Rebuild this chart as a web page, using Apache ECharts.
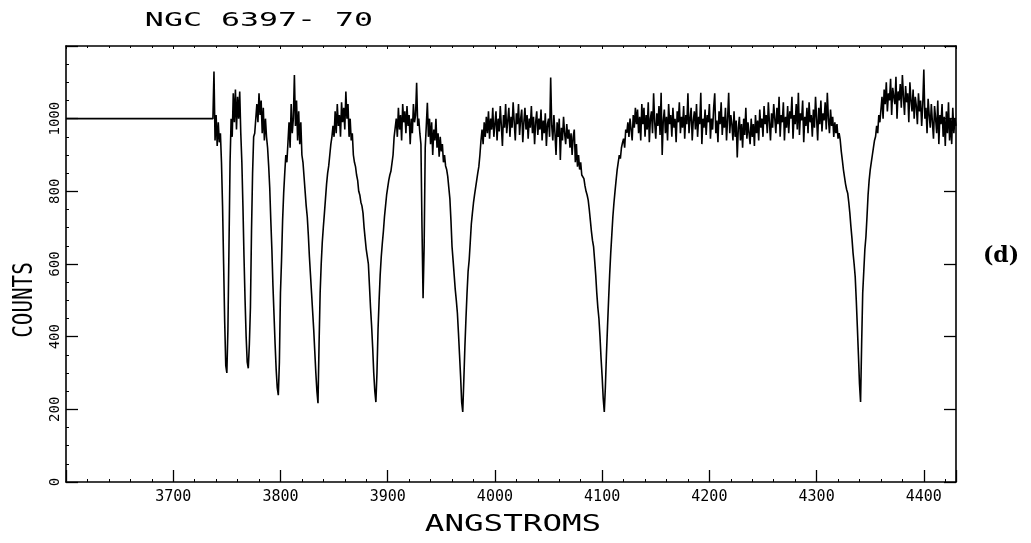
<!DOCTYPE html>
<html>
<head>
<meta charset="utf-8">
<script src="https://cdn.jsdelivr.net/npm/echarts@6/dist/echarts.min.js"></script>
<style>
html,body{margin:0;padding:0;background:#fff;}
#chart{width:1031px;height:543px;}
</style>
</head>
<body>
<div id="chart"></div>
<script>
// ---- data ----
const titleText = 'NGC 6397- 70';
const xAxisTitle = 'ANGSTROMS';
const yAxisTitle = 'COUNTS';
const panelLabel = '(d)';

const xTicks = [3700, 3800, 3900, 4000, 4100, 4200, 4300, 4400];
const yTicks = [0, 200, 400, 600, 800, 1000];

// flat (no data) segment before the spectrum starts
const flatWavelengths = [3600, 3737];
const flatCounts = [1000, 1000];

// sampled spectrum: one value per angstrom starting at spectrumStart
const spectrumStart = 3738;
const spectrumStep = 1;
const spectrumCounts = [
/*3738*/ 1130, 940, 1010, 925, 990, 935, 960, 880, 760, 600,
/*3748*/ 440, 320, 300, 420, 650, 880, 1000, 950, 1070, 990,
/*3758*/ 1080, 970, 1060, 1000, 1075, 960, 880, 760, 620, 500,
/*3768*/ 400, 330, 313, 380, 480, 690, 850, 950, 960, 1000,
/*3778*/ 1040, 990, 1070, 1010, 1050, 960, 1030, 940, 1000, 950,
/*3788*/ 920, 870, 810, 720, 640, 540, 460, 380, 310, 260,
/*3798*/ 239, 330, 520, 610, 720, 795, 850, 900, 880, 935,
/*3808*/ 990, 920, 1040, 960, 1000, 1120, 980, 1050, 940, 1020,
/*3818*/ 930, 990, 900, 880, 840, 800, 760, 730, 680, 620,
/*3828*/ 570, 520, 470, 420, 360, 300, 250, 217, 380, 520,
/*3838*/ 600, 660, 702, 740, 780, 820, 850, 870, 900, 930,
/*3848*/ 950, 980, 950, 1020, 960, 1040, 980, 1010, 950, 1045,
/*3858*/ 990, 1030, 970, 1075, 1000, 1040, 950, 1000, 940, 960,
/*3868*/ 900, 880, 868, 845, 830, 800, 790, 770, 760, 740,
/*3878*/ 700, 670, 640, 620, 600, 540, 480, 430, 370, 300,
/*3888*/ 250, 220, 300, 420, 500, 570, 620, 657, 690, 730,
/*3898*/ 760, 790, 810, 830, 845, 855, 860, 900, 950, 975,
/*3908*/ 1000, 950, 1030, 970, 1010, 940, 1040, 990, 1020, 960,
/*3918*/ 1035, 980, 1010, 930, 1000, 960, 1040, 990, 1010, 1099,
/*3928*/ 980, 1000, 960, 930, 700, 506, 650, 920, 980, 1044,
/*3938*/ 950, 1000, 930, 990, 900, 970, 940, 1000, 920, 960,
/*3948*/ 895, 950, 910, 930, 880, 900, 870, 860, 841, 810,
/*3958*/ 780, 720, 648, 610, 570, 530, 500, 465, 410, 350,
/*3968*/ 290, 220, 193, 280, 372, 450, 520, 580, 611, 660,
/*3978*/ 710, 740, 768, 790, 810, 830, 850, 868, 900, 940,
/*3988*/ 970, 930, 990, 950, 1005, 960, 1020, 945, 1000, 970,
/*3998*/ 1030, 950, 985, 1020, 940, 1000, 965, 1035, 980, 925,
/*4008*/ 1010, 975, 1040, 960, 995, 1030, 950, 1005, 975, 1045,
/*4018*/ 990, 940, 1015, 985, 1040, 955, 1000, 1025, 935, 990,
/*4028*/ 1030, 970, 1010, 945, 1000, 975, 1035, 960, 1005, 930,
/*4038*/ 990, 1020, 955, 1000, 970, 1025, 940, 995, 960, 1015,
/*4048*/ 925, 985, 1000, 950, 1113, 980, 940, 1010, 960, 900,
/*4058*/ 990, 950, 1000, 886, 975, 940, 1005, 960, 930, 985,
/*4068*/ 945, 970, 920, 960, 900, 950, 970, 880, 930, 868,
/*4078*/ 900, 860, 880, 845, 850, 835, 815, 800, 790, 776,
/*4088*/ 750, 720, 690, 665, 648, 610, 570, 520, 480, 450,
/*4098*/ 400, 340, 290, 230, 193, 260, 350, 427, 500, 570,
/*4108*/ 630, 680, 730, 768, 800, 830, 859, 880, 900, 890,
/*4118*/ 920, 934, 945, 920, 970, 961, 990, 950, 1000, 970,
/*4128*/ 940, 1010, 975, 1030, 985, 1025, 960, 1005, 940, 1040,
/*4138*/ 985, 1030, 950, 1010, 970, 1045, 935, 1000, 1020, 960,
/*4148*/ 1070, 990, 945, 1015, 980, 1035, 955, 1071, 900, 995,
/*4158*/ 1025, 960, 1005, 940, 1040, 985, 1010, 950, 1030, 975,
/*4168*/ 1000, 935, 1020, 990, 1045, 960, 1005, 975, 1035, 945,
/*4178*/ 1010, 985, 1070, 960, 1000, 1030, 940, 995, 1020, 970,
/*4188*/ 1040, 950, 1005, 985, 1071, 930, 1000, 975, 1025, 955,
/*4198*/ 1010, 990, 1040, 945, 1000, 970, 1030, 1070, 960, 995,
/*4208*/ 935, 1020, 985, 1045, 955, 1005, 975, 1030, 940, 1000,
/*4218*/ 1071, 960, 1010, 985, 940, 1020, 950, 995, 893, 975,
/*4228*/ 1005, 940, 985, 920, 1000, 955, 1030, 945, 990, 960,
/*4238*/ 930, 1000, 950, 985, 925, 1010, 960, 995, 940, 1025,
/*4248*/ 975, 1000, 950, 1035, 985, 1010, 960, 1045, 990, 940,
/*4258*/ 1015, 975, 1040, 1000, 960, 1030, 985, 1060, 950, 1010,
/*4268*/ 990, 1045, 940, 1005, 975, 1035, 960, 1020, 1000, 1060,
/*4278*/ 945, 1010, 985, 1040, 970, 1071, 955, 1015, 995, 1050,
/*4288*/ 935, 1005, 980, 1030, 960, 1045, 990, 1010, 950, 1025,
/*4298*/ 975, 1060, 1000, 940, 1030, 985, 1050, 965, 1015, 995,
/*4308*/ 1045, 970, 1071, 1000, 960, 1025, 980, 1005, 950, 990,
/*4318*/ 960, 985, 945, 960, 942, 910, 886, 860, 840, 820,
/*4328*/ 805, 795, 770, 740, 703, 670, 630, 600, 565, 500,
/*4338*/ 427, 350, 270, 220, 380, 520, 580, 640, 675, 730,
/*4348*/ 790, 830, 859, 880, 900, 920, 940, 951, 980, 960,
/*4358*/ 1010, 990, 1025, 1060, 1000, 1080, 1040, 1100, 1020, 1070,
/*4368*/ 1050, 1110, 1010, 1085, 1060, 1040, 1115, 1000, 1075, 1050,
/*4378*/ 1095, 1030, 1120, 1060, 1010, 1090, 1045, 1070, 990, 1100,
/*4388*/ 1050, 1020, 1080, 1000, 1060, 1035, 985, 1070, 1020, 1050,
/*4398*/ 980, 1040, 1135, 1000, 1030, 960, 1055, 1010, 975, 1040,
/*4408*/ 990, 945, 1035, 1000, 960, 1050, 930, 1010, 985, 1040,
/*4418*/ 950, 1005, 925, 1020, 960, 1045, 940, 1000, 930, 1030,
/*4428*/ 960, 1000, 980
];

// ---- build series data ----
const seriesData = [];
for (let i = 0; i < flatWavelengths.length; i++) seriesData.push([flatWavelengths[i], flatCounts[i]]);
for (let i = 0; i < spectrumCounts.length; i++) seriesData.push([spectrumStart + i * spectrumStep, spectrumCounts[i]]);

const plotFont = '"DejaVu Sans Mono", monospace';
const black = '#000';

const chart = echarts.init(document.getElementById('chart'), null, {renderer: 'canvas'});

const baseX = {
  type: 'value', min: 3600, max: 4430, interval: 100,
  splitLine: {show: false},
  axisLine: {show: true, onZero: false, lineStyle: {color: black, width: 1.6}}
};
const baseY = {
  type: 'value', min: 0, max: 1200, interval: 200,
  splitLine: {show: false},
  axisLine: {show: true, onZero: false, lineStyle: {color: black, width: 1.6}}
};

chart.setOption({
  animation: false,
  backgroundColor: '#fff',
  grid: {left: 66, right: 75, top: 46, bottom: 61, containLabel: false},
  xAxis: [
    Object.assign({}, baseX, {
      position: 'bottom',
      axisTick: {show: true, inside: true, length: 12, lineStyle: {color: black, width: 1.3}},
      minorTick: {show: true, splitNumber: 5, length: 3, lineStyle: {color: black, width: 1}},
      axisLabel: {
        show: true, margin: 8, color: black, fontFamily: plotFont, fontSize: 15,
        showMinLabel: false, showMaxLabel: false,
        formatter: function (v) { return xTicks.indexOf(v) >= 0 ? String(v) : ''; }
      }
    }),
    Object.assign({}, baseX, {
      position: 'top',
      axisTick: {show: true, inside: true, length: 3, lineStyle: {color: black, width: 1}},
      minorTick: {show: true, splitNumber: 5, length: 2, lineStyle: {color: black, width: 1}},
      axisLabel: {show: false}
    })
  ],
  yAxis: [
    Object.assign({}, baseY, {
      position: 'left',
      axisTick: {show: true, inside: true, length: 12, lineStyle: {color: black, width: 1.3}},
      minorTick: {show: true, splitNumber: 4, length: 3, lineStyle: {color: black, width: 1}},
      axisLabel: {
        show: true, rotate: 90, margin: 4, color: black, fontFamily: plotFont, fontSize: 14,
        showMaxLabel: false,
        formatter: function (v) { return yTicks.indexOf(v) >= 0 ? String(v) : ''; }
      }
    }),
    Object.assign({}, baseY, {
      position: 'right',
      axisTick: {show: true, inside: true, length: 12, lineStyle: {color: black, width: 1.3}},
      minorTick: {show: false},
      axisLabel: {show: false}
    })
  ],
  graphic: [
    {type: 'text', x: 259, y: 21, scaleX: 1.58, silent: true,
     style: {text: titleText, font: '20px ' + plotFont, fill: black, textAlign: 'center', textVerticalAlign: 'middle', align: 'center', verticalAlign: 'middle'}},
    {type: 'text', x: 513, y: 525, scaleX: 1.48, scaleY: 1.08, silent: true,
     style: {text: xAxisTitle, font: '22px ' + plotFont, fill: black, textAlign: 'center', textVerticalAlign: 'middle', align: 'center', verticalAlign: 'middle'}},
    {type: 'text', x: 25, y: 300, scaleX: 0.95, scaleY: 1.2, rotation: Math.PI / 2, silent: true,
     style: {text: yAxisTitle, font: '22px ' + plotFont, fill: black, textAlign: 'center', textVerticalAlign: 'middle', align: 'center', verticalAlign: 'middle'}},
    {type: 'text', x: 1001, y: 256, silent: true,
     style: {text: panelLabel, font: 'bold 22px "DejaVu Serif", serif', fill: black, textAlign: 'center', textVerticalAlign: 'middle', align: 'center', verticalAlign: 'middle'}}
  ],
  series: [{
    type: 'line',
    xAxisIndex: 0, yAxisIndex: 0,
    data: seriesData,
    showSymbol: false,
    symbol: 'none',
    silent: true,
    lineStyle: {color: black, width: 1.6},
    clip: true
  }]
});
</script>
</body>
</html>
